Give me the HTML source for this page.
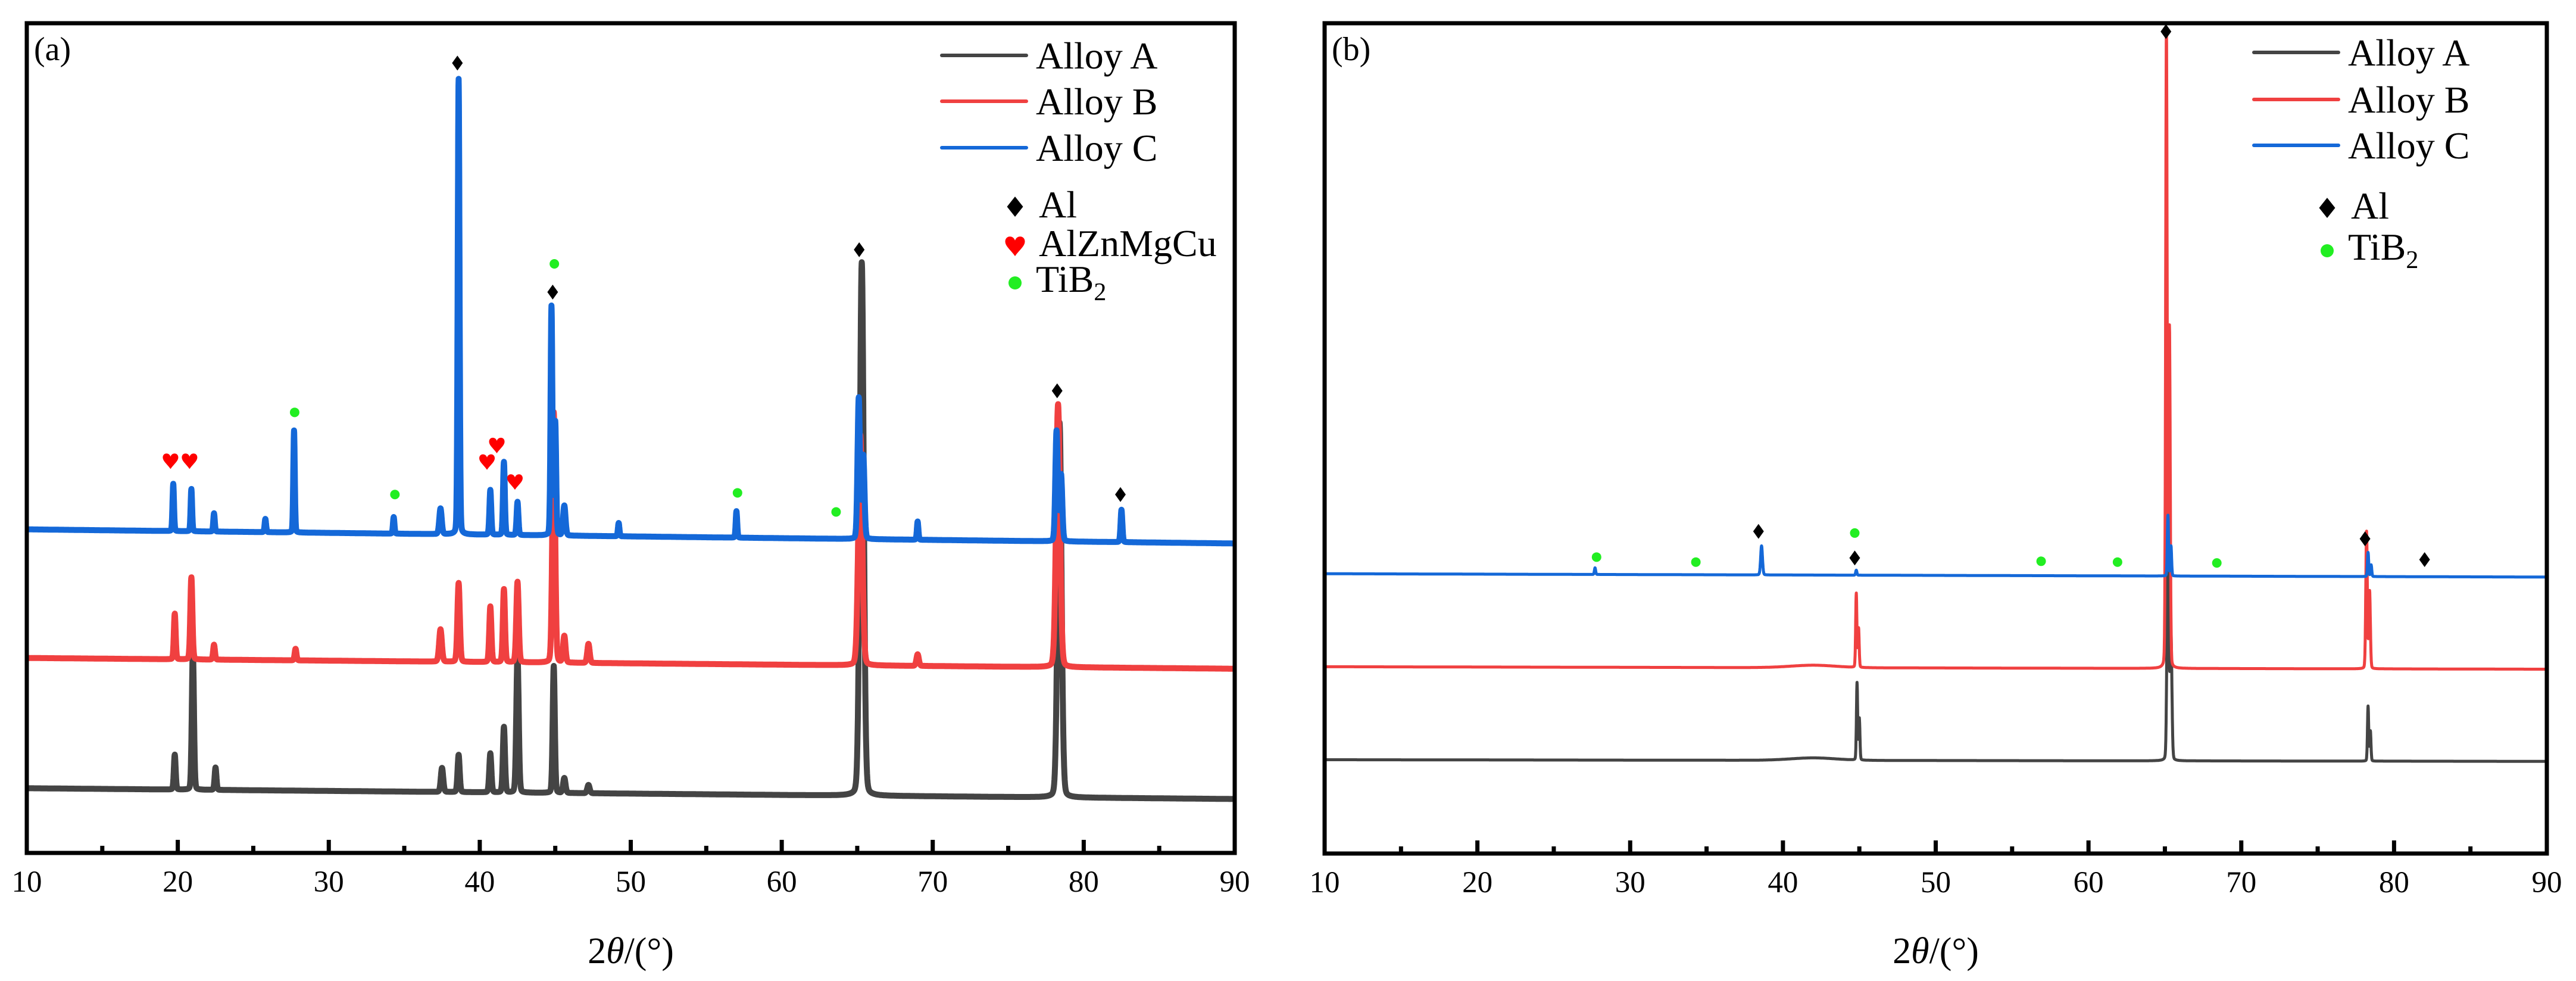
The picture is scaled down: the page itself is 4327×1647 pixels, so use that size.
<!DOCTYPE html>
<html><head><meta charset="utf-8"><style>
html,body{margin:0;padding:0;background:#fff}
svg{display:block;font-family:"Liberation Serif","Times New Roman","DejaVu Serif",serif}
svg text{font-family:"Liberation Serif","Times New Roman","DejaVu Serif",serif;fill:#000}
</style></head><body>
<svg id="fig" width="4327" height="1647" viewBox="0 0 4327 1647" xmlns="http://www.w3.org/2000/svg"></svg>
<script>
// ---------- data ----------
const tickLabels=[10,20,30,40,50,60,70,80,90];
// panel (a) baselines [left,right] in intensity units (0..1000)
const aBaseA=[78,65], aBaseB=[235,222], aBaseC=[390,373];
// peaks: positions (deg), heights (a.u.), widths (deg)
const aPosA=[19.8,21.0,22.5,37.5,38.6,40.7,41.6,42.5,44.9,45.6,47.2,65.3,78.4];
const aHtA =[42,168,27,29,45,47,79,166,153,18,10,643,452];
const aWdA =[0.06,0.07,0.06,0.08,0.07,0.07,0.07,0.08,0.07,0.08,0.08,0.13,0.13];
const aPosB=[19.8,20.9,22.4,27.8,37.4,38.6,40.7,41.6,42.5,44.9,45.6,47.2,65.2,78.3,69.0];
const aHtB =[55,99,18,14,39,95,67,88,97,302,32,23,278,317,14];
const aWdB =[0.06,0.07,0.06,0.06,0.09,0.08,0.07,0.07,0.08,0.09,0.08,0.08,0.13,0.13,0.08];
const aPosC=[19.7,20.9,22.4,25.8,27.7,34.3,37.4,38.6,40.7,41.6,42.5,44.75,45.0,45.6,49.2,57.0,65.1,65.4,78.2,78.5,82.5,69.0];
const aHtC =[57,51,22,16,123,20,31,549,54,88,40,276,136,36,16,32,170,100,133,80,39,22];
const aWdC =[0.05,0.05,0.05,0.05,0.05,0.05,0.08,0.06,0.06,0.06,0.06,0.06,0.06,0.08,0.05,0.05,0.08,0.08,0.08,0.08,0.06,0.05];
// panel (b)
const bBaseA=[113,111], bBaseB=[225,222], bBaseC=[337,333];
const bPosA=[44.85,45.0,65.2,65.4,78.3,78.45,42.0];
const bHtA =[93,50,311,150,66,36,3];
const bWdA =[0.04,0.04,0.06,0.06,0.04,0.04,1.5];
const bPosB=[44.8,44.95,65.1,65.3,78.2,78.4,42.0];
const bHtB =[89,47,766,407,165,93,3];
const bWdB =[0.04,0.04,0.05,0.05,0.05,0.05,1.5];
const bPosC=[27.7,38.6,44.8,65.2,65.4,78.3,78.5];
const bHtC =[8,35,6,73,36,29,14];
const bWdC =[0.04,0.06,0.04,0.04,0.04,0.04,0.04];
// marker annotations: [deg, intensity]
const aDiamondX=[38.52,44.83,65.13,78.24,82.43], aDiamondY=[952,676,727,557,432];
const aHeartX=[19.52,20.78,40.48,41.13,42.33], aHeartY=[473,473,472,492,448];
const aDotX=[27.74,34.38,44.94,57.07,63.6], aDotY=[531,432,710,434,411];
const bDiamondX=[65.07,38.4,44.7,78.1,82.0], bDiamondY=[990,388,356,379,354];
const bDotX=[27.8,34.3,44.7,56.9,61.9,68.4], bDotY=[357,351,386,352,351,350];

// ---------- drawing ----------
const NS="http://www.w3.org/2000/svg";
const svg=document.getElementById('fig');
function mk(tag,attrs,parent){const e=document.createElementNS(NS,tag);for(const k in attrs)e.setAttribute(k,attrs[k]);(parent||svg).appendChild(e);return e;}
const COL={A:'#444444',B:'#f04040',C:'#1468d8'};

function panel(cfg){
  const g=mk('g',{});
  
  
  const L=cfg.left,R=cfg.right,T=39,B=cfg.bottom;
  const xs=d=>L+(d-10)/80*(R-L);
  const ys=v=>B-v/1000*(B-T);
  const clip=mk('clipPath',{id:'clip'+cfg.id},g);
  mk('rect',{x:L,y:T,width:R-L,height:B-T},clip);
  const series=[['A',cfg.baseA,cfg.posA,cfg.htA,cfg.wdA],['B',cfg.baseB,cfg.posB,cfg.htB,cfg.wdB],['C',cfg.baseC,cfg.posC,cfg.htC,cfg.wdC]];
  series.forEach(s=>{
    const [key,base,pos,ht,wd]=s;
    let d='';
    for(let x=10;x<=90.0001;x+=0.01){
      let v=base[0]+(base[1]-base[0])*(x-10)/80;
      for(let i=0;i<pos.length;i++){
        const u=(x-pos[i])/wd[i];
        v+=ht[i]*(0.88*Math.exp(-0.5*u*u)+0.12/(1+u*u*0.8));
      }
      d+=(d?'L':'M')+xs(x).toFixed(1)+','+ys(v).toFixed(1);
    }
    const p=mk('path',{d:d,fill:'none',stroke:COL[key],'stroke-width':cfg.sw,'stroke-linejoin':'round','clip-path':'url(#clip'+cfg.id+')'},g);
    
    
  });
  const fr=mk('rect',{x:L,y:T,width:R-L,height:B-T,fill:'none',stroke:'#000','stroke-width':7},g);
  
  
  for(let i=0;i<tickLabels.length;i++){
    const x=xs(tickLabels[i]);
    if(i>0&&i<tickLabels.length-1){const t=mk('line',{x1:x,x2:x,y1:B,y2:B-22,stroke:'#000','stroke-width':7},g);
      }
    const tl=mk('text',{x:x,y:B+65,'font-size':51,'text-anchor':'middle'},g);
    tl.textContent=tickLabels[i];
    
    
    if(i<tickLabels.length-1){const xm=xs(tickLabels[i]+5);const m=mk('line',{x1:xm,x2:xm,y1:B,y2:B-12,stroke:'#000','stroke-width':7},g);
      }
  }
  const at=mk('text',{x:(L+R)/2,y:1617,'font-size':62,'text-anchor':'middle'},g);
  at.innerHTML='2<tspan font-style="italic">θ</tspan>/(°)';
  
  
  const pl=mk('text',{x:L+12,y:101,'font-size':56},g);
  pl.textContent=cfg.label;
  
  
  const diamond=(x,y,w,h,par)=>mk('polygon',{points:`${x},${y-h/2} ${x+w/2},${y} ${x},${y+h/2} ${x-w/2},${y}`,fill:'#000'},par);
  const heart=(x,y,s,par)=>mk('path',{d:`M${x},${y+s*0.55} C${x-s*0.2},${y+s*0.25} ${x-s*0.5},${y+s*0.05} ${x-s*0.5},${y-s*0.2} C${x-s*0.5},${y-s*0.5} ${x-s*0.1},${y-s*0.55} ${x},${y-s*0.25} C${x+s*0.1},${y-s*0.55} ${x+s*0.5},${y-s*0.5} ${x+s*0.5},${y-s*0.2} C${x+s*0.5},${y+s*0.05} ${x+s*0.2},${y+s*0.25} ${x},${y+s*0.55}Z`,fill:'#ff0000'},par);
  cfg.dX.forEach((d,i)=>{const e=diamond(xs(d),ys(cfg.dY[i]),18,25,g);});
  (cfg.hX||[]).forEach((d,i)=>{const e=heart(xs(d),ys(cfg.hY[i]),26,g);});
  cfg.gX.forEach((d,i)=>{const e=mk('circle',{cx:xs(d),cy:ys(cfg.gY[i]),r:8,fill:'#22ee22'},g);});
  const lg=mk('g',{},g);
  
  
  const lx=cfg.legX;
  [['A',cfg.legY[0]],['B',cfg.legY[1]],['C',cfg.legY[2]]].forEach(([k,y])=>{
    const ln=mk('line',{x1:lx,x2:lx+142,y1:y,y2:y,stroke:COL[k],'stroke-width':6,'stroke-linecap':'round'},lg);
    
    
    const t=mk('text',{x:lx+158,y:y+22,'font-size':64},lg);
    t.textContent='Alloy '+k;
    
    
  });
  const sx=lx+123;let y=cfg.symY;
  const d1=diamond(sx,y,27,34,lg);
  let t=mk('text',{x:sx+40,y:y+18,'font-size':64},lg);t.textContent='Al';
  if(cfg.hX){y+=65;const h=heart(sx,y,33,lg);
    t=mk('text',{x:sx+40,y:y+18,'font-size':64},lg);t.textContent='AlZnMgCu';}
  y+=(cfg.hX?63:72);
  const c=mk('circle',{cx:sx,cy:y,r:11,fill:'#22ee22'},lg);
  t=mk('text',{x:sx+35,y:y+15,'font-size':64},lg);t.innerHTML='TiB<tspan font-size="42" dy="14">2</tspan>';
}

panel({id:'a',name:'panel-a',label:'(a)',left:45,right:2074,bottom:1432,sw:10,
  baseA:aBaseA,baseB:aBaseB,baseC:aBaseC,posA:aPosA,htA:aHtA,wdA:aWdA,posB:aPosB,htB:aHtB,wdB:aWdB,posC:aPosC,htC:aHtC,wdC:aWdC,
  dX:aDiamondX,dY:aDiamondY,hX:aHeartX,hY:aHeartY,gX:aDotX,gY:aDotY,legX:1582,legY:[93,170,248],symY:347});
panel({id:'b',name:'panel-b',label:'(b)',left:2225,right:4278,bottom:1433,sw:5,
  baseA:bBaseA,baseB:bBaseB,baseC:bBaseC,posA:bPosA,htA:bHtA,wdA:bWdA,posB:bPosB,htB:bHtB,wdB:bWdB,posC:bPosC,htC:bHtC,wdC:bWdC,
  dX:bDiamondX,dY:bDiamondY,gX:bDotX,gY:bDotY,legX:3786,legY:[88,167,244],symY:349});
</script>
</body></html>
